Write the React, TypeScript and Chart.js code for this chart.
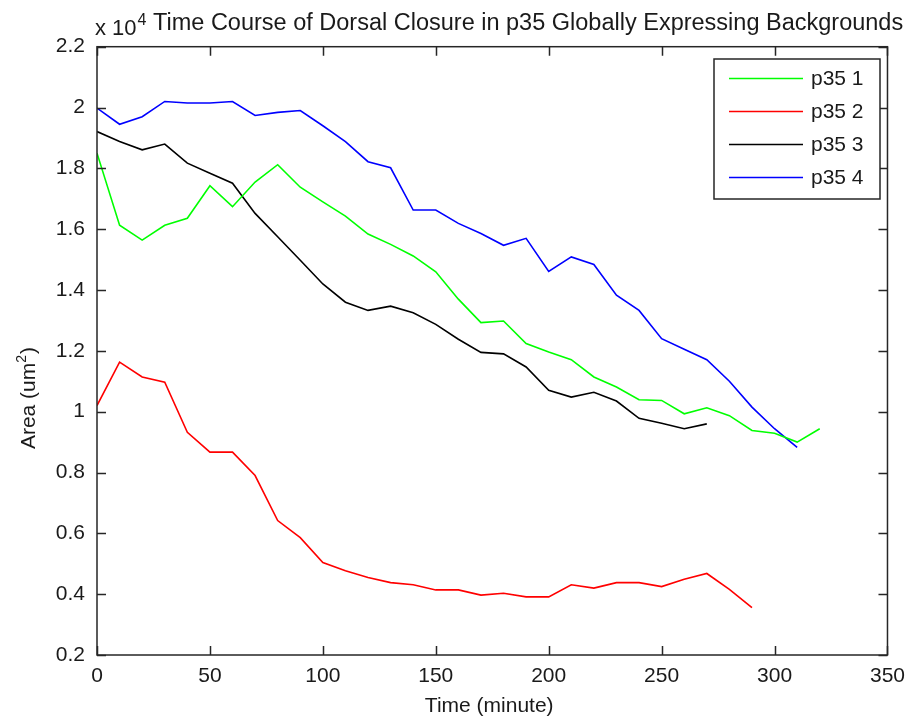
import { useEffect, useRef } from "react";
import { Chart, registerables } from "chart.js";

Chart.register(...registerables);

// ---- data (Area values in units of 10^4 um^2) ----
const timeMinutes = [0, 10, 20, 30, 40, 50, 60, 70, 80, 90, 100, 110, 120, 130, 140, 150, 160, 170, 180, 190, 200, 210, 220, 230, 240, 250, 260, 270, 280, 290, 300, 310, 320];

const p35_1 = [1.85, 1.613, 1.564, 1.613, 1.636, 1.743, 1.674, 1.755, 1.812, 1.738, 1.69, 1.643, 1.584, 1.55, 1.512, 1.46, 1.37, 1.293, 1.298, 1.224, 1.196, 1.171, 1.114, 1.081, 1.039, 1.037, 0.993, 1.013, 0.987, 0.938, 0.929, 0.9, 0.944];
const p35_2 = [1.02, 1.163, 1.114, 1.097, 0.932, 0.867, 0.867, 0.79, 0.642, 0.586, 0.504, 0.477, 0.455, 0.438, 0.431, 0.414, 0.414, 0.397, 0.403, 0.391, 0.391, 0.431, 0.42, 0.438, 0.438, 0.425, 0.449, 0.468, 0.416, 0.356];
const p35_3 = [1.921, 1.888, 1.861, 1.88, 1.817, 1.784, 1.751, 1.652, 1.575, 1.498, 1.42, 1.36, 1.333, 1.347, 1.325, 1.287, 1.238, 1.195, 1.19, 1.147, 1.07, 1.048, 1.064, 1.035, 0.978, 0.962, 0.944, 0.96];
const p35_4 = [1.998, 1.945, 1.97, 2.02, 2.015, 2.015, 2.02, 1.974, 1.984, 1.99, 1.94, 1.888, 1.822, 1.802, 1.663, 1.663, 1.619, 1.586, 1.547, 1.57, 1.461, 1.509, 1.484, 1.383, 1.333, 1.24, 1.205, 1.171, 1.1, 1.015, 0.944, 0.883];

const seriesLabels = ["p35 1", "p35 2", "p35 3", "p35 4"];
const seriesColors = ["#00ff00", "#ff0000", "#000000", "#0000ff"];
const seriesValues = [p35_1, p35_2, p35_3, p35_4];

const xTicks = [0, 50, 100, 150, 200, 250, 300, 350];
const yTicks = [0.2, 0.4, 0.6, 0.8, 1.0, 1.2, 1.4, 1.6, 1.8, 2.0, 2.2];

const chartTitle = "Time Course of Dorsal Closure in p35 Globally Expressing Backgrounds";
const xAxisTitle = "Time (minute)";
const yAxisTitle = "Area (um";
const exponentText = "x 10";

const FONT = "'Liberation Sans', Arial, sans-serif";
const TEXT = "#1a1a1a";

const decorPlugin = {
  id: "matlabDecor",
  afterDraw(chart: any) {
    const { ctx, chartArea } = chart;
    const { left, right, top, bottom } = chartArea;
    const xs = chart.scales.x;
    const ys = chart.scales.y;
    ctx.save();
    // box
    ctx.strokeStyle = "#262626";
    ctx.lineWidth = 1.5;
    ctx.strokeRect(left, top, right - left, bottom - top);
    // inward ticks
    const tl = 9;
    ctx.beginPath();
    xTicks.forEach((v) => {
      const px = Math.round(xs.getPixelForValue(v)) + 0.5;
      ctx.moveTo(px, bottom);
      ctx.lineTo(px, bottom - tl);
      ctx.moveTo(px, top);
      ctx.lineTo(px, top + tl);
    });
    yTicks.forEach((v) => {
      const py = Math.round(ys.getPixelForValue(v)) + 0.5;
      ctx.moveTo(left, py);
      ctx.lineTo(left + tl, py);
      ctx.moveTo(right, py);
      ctx.lineTo(right - tl, py);
    });
    ctx.stroke();

    ctx.fillStyle = TEXT;
    ctx.textBaseline = "alphabetic";
    // exponent label
    ctx.textAlign = "left";
    ctx.font = `22px ${FONT}`;
    ctx.fillText(exponentText, 95, 35);
    const w = ctx.measureText(exponentText).width;
    ctx.font = `16px ${FONT}`;
    ctx.fillText("4", 95 + w + 1, 25);
    // title
    ctx.font = `23.5px ${FONT}`;
    ctx.fillText(chartTitle, 153, 30);

    // x-axis title
    ctx.textAlign = "center";
    ctx.font = `21px ${FONT}`;
    ctx.fillText(xAxisTitle, (left + right) / 2 - 3, 712);

    // y-axis title with superscript
    ctx.save();
    ctx.translate(35, 398);
    ctx.rotate(-Math.PI / 2);
    ctx.font = `21px ${FONT}`;
    const w1 = ctx.measureText(yAxisTitle).width;
    ctx.font = `14px ${FONT}`;
    const w2 = ctx.measureText("2").width;
    ctx.font = `21px ${FONT}`;
    const w3 = ctx.measureText(")").width;
    const total = w1 + w2 + w3 + 1;
    const x0 = -total / 2;
    ctx.textAlign = "left";
    ctx.fillText(yAxisTitle, x0, 0);
    ctx.font = `14px ${FONT}`;
    ctx.fillText("2", x0 + w1, -9);
    ctx.font = `21px ${FONT}`;
    ctx.fillText(")", x0 + w1 + w2 + 1, 0);
    ctx.restore();

    // legend
    const lx = 714, ly = 59, lw = 166, lh = 140;
    ctx.fillStyle = "#ffffff";
    ctx.fillRect(lx, ly, lw, lh);
    ctx.strokeStyle = "#262626";
    ctx.lineWidth = 1.5;
    ctx.strokeRect(lx, ly, lw, lh);
    const rows = [78.5, 111.5, 144.5, 177.5];
    chart.data.datasets.forEach((ds: any, i: number) => {
      const y = rows[i];
      ctx.strokeStyle = ds.borderColor;
      ctx.lineWidth = 1.5;
      ctx.beginPath();
      ctx.moveTo(729, y);
      ctx.lineTo(803, y);
      ctx.stroke();
      ctx.fillStyle = TEXT;
      ctx.font = `21px ${FONT}`;
      ctx.textAlign = "left";
      ctx.textBaseline = "middle";
      ctx.fillText(ds.label, 811, y + 1);
    });
    ctx.restore();
  },
};

export default function App() {
  const canvasRef = useRef<HTMLCanvasElement | null>(null);

  useEffect(() => {
    const canvas = canvasRef.current;
    if (!canvas) return;
    const datasets = seriesValues.map((vals, i) => ({
      label: seriesLabels[i],
      data: vals.map((v, j) => ({ x: timeMinutes[j], y: v })),
      borderColor: seriesColors[i],
      backgroundColor: seriesColors[i],
      borderWidth: 1.6,
      pointRadius: 0,
      tension: 0,
      fill: false,
    }));
    const chart = new Chart(canvas, {
      type: "line",
      data: { datasets },
      options: {
        responsive: false,
        animation: false,
        devicePixelRatio: 1,
        layout: { padding: { top: 46.7, right: 24, left: 0, bottom: 0 } },
        plugins: {
          legend: { display: false },
          title: { display: false },
          tooltip: { enabled: false },
        },
        scales: {
          x: {
            type: "linear",
            min: 0,
            max: 350,
            afterBuildTicks: (scale: any) => {
              scale.ticks = xTicks.map((v) => ({ value: v }));
            },
            afterFit: (scale: any) => {
              scale.height = 68;
            },
            grid: { display: false, drawTicks: false },
            border: { display: false },
            ticks: {
              padding: 9,
              color: TEXT,
              font: { family: FONT, size: 21 },
              maxRotation: 0,
              autoSkip: false,
              callback: (v: any) => String(v),
            },
          },
          y: {
            type: "linear",
            min: 0.2,
            max: 2.2,
            afterBuildTicks: (scale: any) => {
              scale.ticks = yTicks.map((v) => ({ value: v }));
            },
            afterFit: (scale: any) => {
              scale.width = 97;
            },
            grid: { display: false, drawTicks: false },
            border: { display: false },
            ticks: {
              padding: 12,
              color: TEXT,
              font: { family: FONT, size: 21 },
              autoSkip: false,
              callback: (v: any) => String(Number(Number(v).toFixed(1))),
            },
          },
        },
      },
      plugins: [decorPlugin],
    });
    return () => chart.destroy();
  }, []);

  return (
    <div style={{ position: "absolute", left: 0, top: 0, width: 914, height: 723, background: "#fff" }}>
      <canvas ref={canvasRef} width={914} height={723} />
    </div>
  );
}
